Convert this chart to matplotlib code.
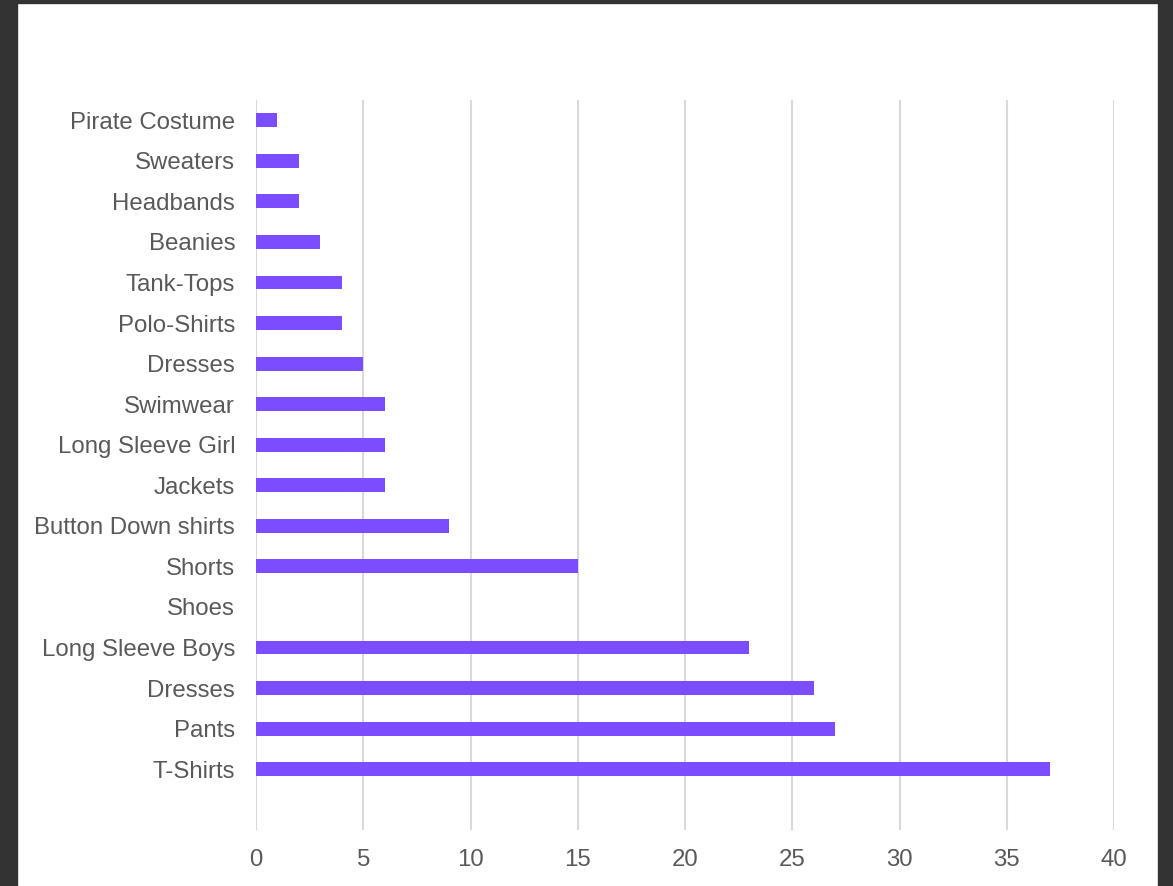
import numpy as np
import matplotlib.pyplot as plt
from matplotlib.patches import Rectangle

# categories listed top to bottom as shown
categories = ['Pirate Costume', 'Sweaters', 'Headbands', 'Beanies', 'Tank-Tops',
              'Polo-Shirts', 'Dresses', 'Swimwear', 'Long Sleeve Girl', 'Jackets',
              'Button Down shirts', 'Shorts', 'Shoes', 'Long Sleeve Boys',
              'Dresses', 'Pants', 'T-Shirts']
values = [1, 2, 2, 3, 4, 4, 5, 6, 6, 6, 9, 15, 0, 23, 26, 27, 37]
xticks = [0, 5, 10, 15, 20, 25, 30, 35, 40]

plt.rcParams['font.family'] = ['Liberation Sans', 'DejaVu Sans']

W, H = 1173, 886
fig = plt.figure(figsize=(W / 100, H / 100), dpi=100)
fig.patch.set_facecolor('white')

ax = fig.add_axes([256 / W, 1 - 830 / H, (1114 - 256) / W, (830 - 100) / H])
pos = np.arange(len(categories))
ax.barh(pos, values, height=0.345, color='#7C4DFF', zorder=2)

ax.set_xlim(0, 40)
ax.set_ylim(len(categories) + 0.5, -0.5)
ax.set_xticks(xticks)
ax.set_yticks(pos)
ax.set_yticklabels(categories)
ax.grid(axis='x', color='#d9d9d9', linewidth=1.5, zorder=0)
ax.set_axisbelow(True)
for s in ax.spines.values():
    s.set_visible(False)
ax.tick_params(axis='y', length=0, pad=15, labelsize=17.3, labelcolor='#595959')
ax.tick_params(axis='x', length=0, pad=14, labelsize=17.3, labelcolor='#595959')

# dark frame around the screenshot
frame = '#333333'
fig.patches.append(Rectangle((0, 0), 17 / W, 1, transform=fig.transFigure, color=frame, zorder=10))
fig.patches.append(Rectangle((0, 1 - 3 / H), 1, 3 / H, transform=fig.transFigure, color=frame, zorder=10))
fig.patches.append(Rectangle((1158 / W, 0), 1 - 1158 / W, 1, transform=fig.transFigure, color=frame, zorder=10))

fig.savefig('out.png', dpi=100)
